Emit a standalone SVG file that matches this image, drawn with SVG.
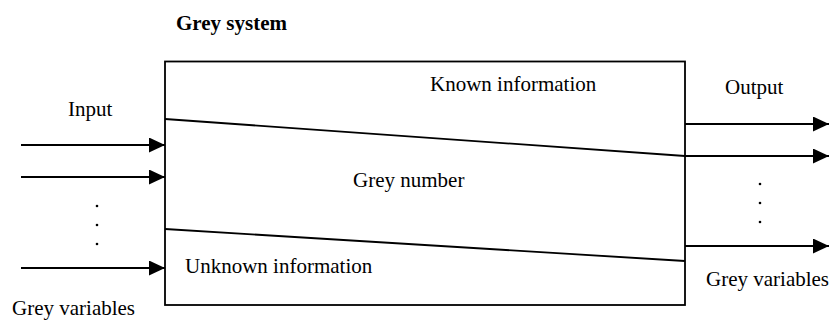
<svg xmlns="http://www.w3.org/2000/svg" width="829" height="320" viewBox="0 0 829 320">
<defs>
<marker id="ah" markerWidth="16" markerHeight="15" refX="16" refY="7.5" orient="auto" markerUnits="userSpaceOnUse">
<path d="M0,0 L16,7.5 L0,15 Z" fill="#000"/>
</marker>
<style>
.t{font-family:"Liberation Serif","Times New Roman",serif;font-size:21px;fill:#000}
.b{font-weight:bold}
.ln{stroke:#000;stroke-width:1.8;fill:none}
.ar{stroke:#000;stroke-width:1.8;fill:none;marker-end:url(#ah)}
</style>
</defs>
<rect width="829" height="320" fill="#fff"/>
<g id="title"><text class="t b" x="176" y="30">Grey system</text></g>
<g id="system">
<rect class="ln" x="165" y="61.5" width="520" height="243.5"/>
<line class="ln" x1="165" y1="119" x2="685" y2="156"/>
<line class="ln" x1="165" y1="229" x2="685" y2="261"/>
<text class="t" x="430" y="91">Known information</text>
<text class="t" x="353" y="187">Grey number</text>
<text class="t" x="185" y="273">Unknown information</text>
</g>
<g id="input">
<text class="t" x="68" y="116">Input</text>
<text class="t" x="12" y="315">Grey variables</text>
<circle cx="97" cy="206" r="1.3"/><circle cx="97" cy="225" r="1.3"/><circle cx="97" cy="244" r="1.3"/>
</g>
<g id="output">
<text class="t" x="725" y="94">Output</text>
<text class="t" x="706" y="286">Grey variables</text>
<circle cx="760" cy="184" r="1.3"/><circle cx="760" cy="203" r="1.3"/><circle cx="760" cy="222" r="1.3"/>
</g>
<g id="connectors">
<line class="ar" x1="21" y1="145" x2="165" y2="145"/>
<line class="ar" x1="21" y1="177" x2="165" y2="177"/>
<line class="ar" x1="21" y1="268" x2="165" y2="268"/>
<line class="ar" x1="685" y1="124" x2="829" y2="124"/>
<line class="ar" x1="685" y1="156" x2="829" y2="156"/>
<line class="ar" x1="685" y1="246" x2="829" y2="246"/>
</g>
</svg>
